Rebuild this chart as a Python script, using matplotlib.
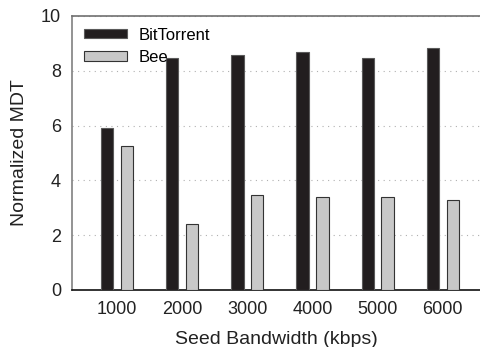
import numpy as np
import matplotlib
matplotlib.use('Agg')
import matplotlib.pyplot as plt

plt.rcParams['font.family'] = ['Liberation Sans', 'DejaVu Sans']

# seed bandwidth settings and normalized MDT per client
bandwidth = ['1000', '2000', '3000', '4000', '5000', '6000']
bittorrent = [5.91, 8.47, 8.58, 8.67, 8.47, 8.82]
bee = [5.26, 2.41, 3.46, 3.38, 3.38, 3.30]

x = np.arange(len(bandwidth))
w = 0.19
off = 0.152

fig = plt.figure(figsize=(4.8, 3.47), dpi=100)
ax = fig.add_axes([0.15, 0.1643, 0.85, 0.7896])

ax.bar(x - off, bittorrent, w, color='#221e1f', edgecolor='#5a5a5a', linewidth=0.8,
       label='BitTorrent', zorder=3)
ax.bar(x + off, bee, w, color='#c8c8c8', edgecolor='#333333', linewidth=0.8,
       label='Bee', zorder=3)

ax.set_xlim(-0.69, 5.57)
ax.set_ylim(0, 10)
ax.set_yticks([0, 2, 4, 6, 8, 10])
ax.set_xticks(x)
ax.set_xticklabels(bandwidth)
ax.tick_params(axis='both', length=0, labelsize=13, colors='#222222')
ax.tick_params(axis='x', pad=8)
ax.tick_params(axis='y', pad=8)

ax.yaxis.grid(True, linestyle=(0, (1, 4)), color='#b0b0b0', linewidth=0.8, zorder=0)

ax.spines['right'].set_visible(False)
ax.spines['top'].set_color('#707070')
ax.spines['left'].set_color('#808080')
ax.spines['bottom'].set_color('#111111')
for side in ['top', 'left', 'bottom']:
    ax.spines[side].set_linewidth(1.2)

ax.set_xlabel('Seed Bandwidth (kbps)', fontsize=14, labelpad=9, color='#222222')
ax.set_ylabel('Normalized MDT', fontsize=14, labelpad=9, color='#222222')

ax.legend(loc='upper left', frameon=False, fontsize=12, handlelength=2.6,
          handleheight=0.5, handletextpad=0.7, borderaxespad=0.3, labelspacing=0.45)

fig.savefig('out.png', dpi=100)
